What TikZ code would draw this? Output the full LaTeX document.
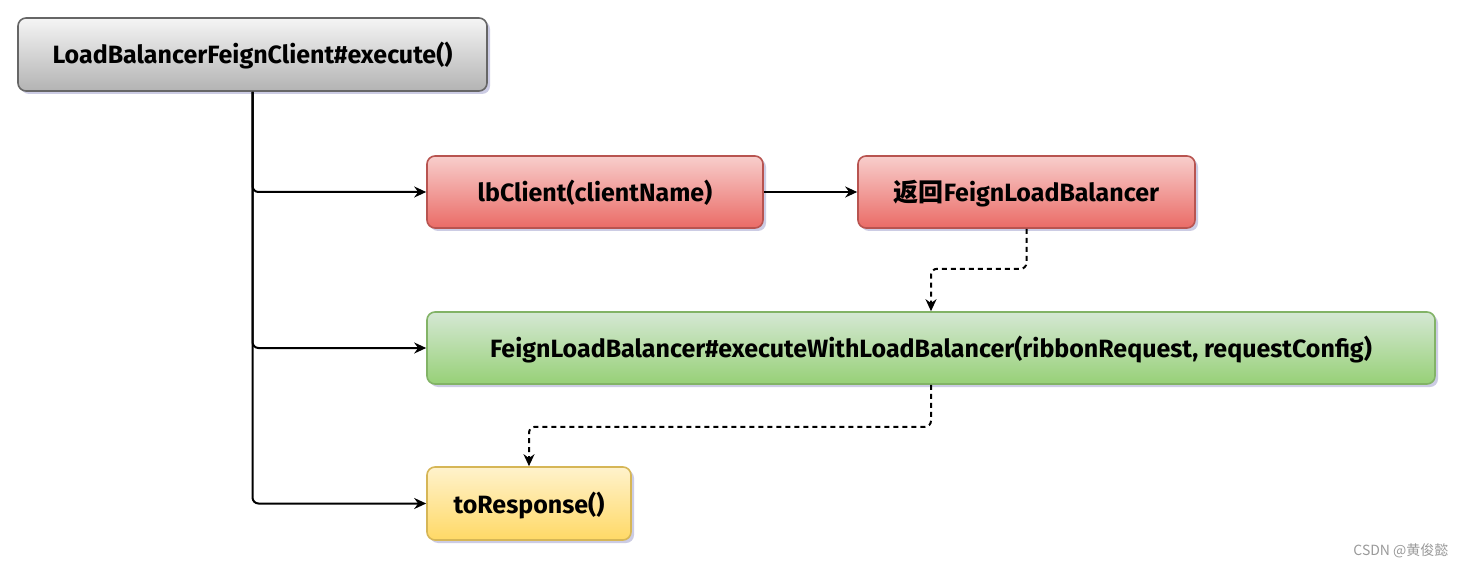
\documentclass[tikz,border=0pt]{standalone}
\usepackage{fontspec}
\setmainfont{Fira Sans}
\newfontfamily\cjk{Noto Sans CJK SC}
\usetikzlibrary{arrows.meta,shadows}
\definecolor{grayT}{HTML}{F5F5F5}\definecolor{grayB}{HTML}{B3B3B3}\definecolor{grayD}{HTML}{666666}
\definecolor{redT}{HTML}{F8CECC}\definecolor{redB}{HTML}{EA6B66}\definecolor{redD}{HTML}{B85450}
\definecolor{grnT}{HTML}{D5E8D4}\definecolor{grnB}{HTML}{97D077}\definecolor{grnD}{HTML}{82B366}
\definecolor{ylwT}{HTML}{FFF2CC}\definecolor{ylwB}{HTML}{FFD966}\definecolor{ylwD}{HTML}{D6B656}
\definecolor{wm}{HTML}{9A9A9A}
\tikzset{
  box/.style={rectangle, rounded corners=8pt, line width=1.6pt, font=\fontsize{25}{28}\selectfont\bfseries, text=black,
    text height=21pt, text depth=2pt,
    drop shadow={opacity=0.3, shadow xshift=3pt, shadow yshift=-3pt, fill=gray!70!blue}},
  grayb/.style={box, draw=grayD, top color=grayT, bottom color=grayB},
  redb/.style={box, draw=redD, top color=redT, bottom color=redB},
  grnb/.style={box, draw=grnD, top color=grnT, bottom color=grnB},
  ylwb/.style={box, draw=ylwD, top color=ylwT, bottom color=ylwB},
  conn/.style={line width=2pt, -{Stealth[length=12pt,width=11pt]}, rounded corners=6pt},
  dconn/.style={conn, dash pattern=on 5pt off 4pt},
}
\begin{document}
\begin{tikzpicture}[x=1pt,y=-1pt]
\fill[white] (0,0) rectangle (1464,569);
\useasboundingbox (0,0) rectangle (1464,569);
\node[grayb, minimum width=469pt, minimum height=73pt] (top) at (252.5,54.5) {LoadBalancerFeignClient\#execute()};
\node[redb, minimum width=336pt, minimum height=72pt] (lb) at (595,192) {lbClient(clientName)};
\node[redb, minimum width=337pt, minimum height=72pt] (ret) at (1026.5,192) {{\cjk 返回}FeignLoadBalancer};
\node[grnb, minimum width=1008pt, minimum height=72pt] (flb) at (931,348) {FeignLoadBalancer\#executeWithLoadBalancer(ribbonRequest, requestConfig)};
\node[ylwb, minimum width=204pt, minimum height=73pt] (tor) at (529,503.5) {toResponse()};
\draw[conn] (top.south) |- (lb.west);
\draw[conn] (top.south) |- (flb.west);
\draw[conn] (top.south) |- (tor.west);
\draw[conn] (lb.east) -- (ret.west);
\draw[dconn] (ret.south) -- ++(0,40) -| (flb.north);
\draw[dconn] (flb.south) -- ++(0,42) -| (tor.north);
\node[text=wm, font=\fontsize{14}{16}\selectfont\cjk, anchor=east] (wmk) at (1452,551) {CSDN @黄俊懿};
\end{tikzpicture}
\end{document}
